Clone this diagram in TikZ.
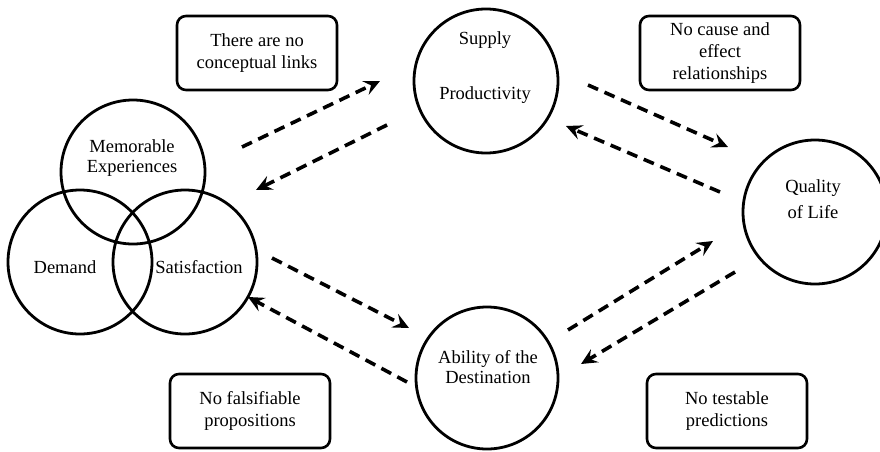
\documentclass[tikz,border=0pt]{standalone}
\usepackage{fontspec}
\setmainfont{Liberation Serif}
\usetikzlibrary{arrows.meta}
\begin{document}
\begin{tikzpicture}[x=1pt,y=-1pt,
  circ/.style={circle,draw,line width=2.8pt,minimum size=#1,inner sep=0pt},
  txt/.style={align=center,font=\fontsize{18.5}{20.5}\selectfont,inner sep=0pt},
  note/.style={draw,line width=2.6pt,rounded corners=9pt,minimum width=160pt,minimum height=74pt,align=center,font=\fontsize{18.5}{22}\selectfont,inner sep=2pt},
  link/.style={line width=3.6pt,dash pattern=on 11pt off 7pt,-{Stealth[length=16pt,width=15pt,inset=6pt]}}]
\useasboundingbox (0,0) rectangle (880,452);
% circles
\node[circ=144pt] (mem) at (133,172) {};
\node[circ=144pt] (dem) at (80,262) {};
\node[circ=144pt] (sat) at (185,262) {};
\node[circ=144pt] (sup) at (486,81) {};
\node[circ=144pt] (qol) at (815,212) {};
\node[circ=142pt] (abl) at (487,378) {};
% texts in circles
\node[txt] (memt) at (132,158) {Memorable\\Experiences};
\node[txt] (demt) at (65,267) {Demand};
\node[txt] (satt) at (199,267) {Satisfaction};
\node[txt] (supt1) at (485,40) {Supply};
\node[txt] (supt2) at (485,95) {Productivity};
\node[txt] (qolt) at (813,199) {Quality\\[6pt]of Life};
\node[txt] (ablt) at (488,367) {Ability of the\\Destination};
% notes
\node[note] (n1) at (257,53) {There are no\\conceptual links};
\node[note] (n2) at (720,53) {No cause and\\effect\\relationships};
\node[note] (n3) at (250,411) {No falsifiable\\propositions};
\node[note] (n4) at (727,411) {No testable\\predictions};
% arrow endpoints
\coordinate (a1s) at (242,147); \coordinate (a1e) at (380,81);
\coordinate (a2s) at (387,125); \coordinate (a2e) at (256,190);
\coordinate (a3s) at (588,85);  \coordinate (a3e) at (728,147);
\coordinate (a4s) at (720,192); \coordinate (a4e) at (566,126);
\coordinate (a5s) at (272,258); \coordinate (a5e) at (409,328);
\coordinate (a6s) at (407,382); \coordinate (a6e) at (248,297);
\coordinate (a7s) at (568,330); \coordinate (a7e) at (713,241);
\coordinate (a8s) at (735,272); \coordinate (a8e) at (581,364);
\draw[link] (a1s) -- (a1e);
\draw[link] (a2s) -- (a2e);
\draw[link] (a3s) -- (a3e);
\draw[link] (a4s) -- (a4e);
\draw[link] (a5s) -- (a5e);
\draw[link] (a6s) -- (a6e);
\draw[link] (a7s) -- (a7e);
\draw[link] (a8s) -- (a8e);
\end{tikzpicture}
\end{document}
